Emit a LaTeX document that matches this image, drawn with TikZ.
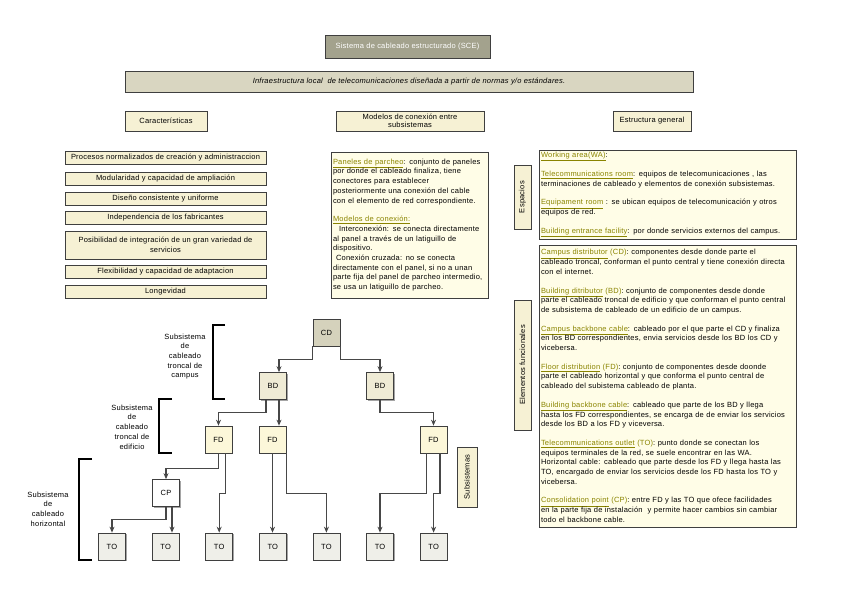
\documentclass[tikz,border=0pt]{standalone}
\usepackage{fontspec}
\setmainfont{Liberation Sans}[LetterSpace=3]
\usepackage{tikz}
\usetikzlibrary{shadows,arrows.meta,positioning}

\definecolor{titulo}{HTML}{A3A28D}
\definecolor{subtitulo}{HTML}{D9D6C1}
\definecolor{crema}{HTML}{F6F1D4}
\definecolor{cremaclaro}{HTML}{FFFDE7}
\definecolor{nodoCD}{HTML}{D5D2BC}
\definecolor{nodoBD}{HTML}{EFEBD5}
\definecolor{nodoFD}{HTML}{FCF7D9}
\definecolor{nodoTO}{HTML}{EFEFE9}
\definecolor{enlace}{HTML}{8A8400}
\definecolor{borde}{HTML}{3F3F3F}
\definecolor{gris}{HTML}{474747}

\newcommand{\tam}{\fontsize{7.5}{9.7}\selectfont}
\newcommand{\lnk}[1]{\textcolor{enlace}{\underline{#1}}}
\newcommand{\sgl}[1]{\textcolor{enlace}{#1}}

\begin{document}
\begin{tikzpicture}[x=1pt, y=-1pt,
			>={Stealth[length=6pt,width=5pt]},
			every node/.style={font=\tam},
			caja/.style={draw=borde, line width=0.7pt, fill=crema, align=center, inner sep=1pt,
				drop shadow={shadow xshift=1.2pt, shadow yshift=-1.2pt, opacity=0.7}},
			lista/.style={caja, minimum width=201pt, minimum height=13pt},
			texto/.style={caja, fill=cremaclaro, align=left, inner sep=2pt},
			nodo/.style={caja, minimum size=27pt, inner sep=0pt},
			flecha/.style={draw=gris, line width=1.2pt, ->},
			corchete/.style={line width=1.3pt},
			etiqueta/.style={align=center}
			]
			\useasboundingbox (0,0) rectangle (848,603);
			\fill[white] (0,0) rectangle (848,603);
			
			% Encabezado
			\node[caja, fill=titulo, text=white, minimum width=165pt, minimum height=23pt] (SCE) at (407.5,46.5) {Sistema de cableado estructurado (SCE)};
			\node[caja, fill=subtitulo, minimum width=568pt, minimum height=21pt, font=\tam\itshape] (Def) at (409,81.5) {Infraestructura local \ de telecomunicaciones diseñada a partir de normas y/o estándares.};
			
			% Titulos de columna
			\node[caja, minimum width=82pt, minimum height=20pt] (Carac) at (166,121) {Características};
			\node[caja, minimum width=148pt, minimum height=20pt, font=\fontsize{7.5}{8}\selectfont] (Modelos) at (410,121) {Modelos de conexión entre\\subsistemas};
			\node[caja, minimum width=78pt, minimum height=20pt] (Estruc) at (652,121) {Estructura general};
			
			% Lista de caracteristicas
			\node[lista] (Proc) at (165.5,157.5) {Procesos normalizados de creación y administraccion};
			\node[lista] (Modu) [below of=Proc, node distance=21pt] {Modularidad y capacidad de ampliación};
			\node[lista] (Dise) [below of=Modu, node distance=20pt] {Diseño consistente y uniforme};
			\node[lista] (Inde) [below of=Dise, node distance=19pt] {Independencia de los fabricantes};
			\node[lista, minimum height=28pt] (Posi) [below of=Inde, node distance=27.5pt] {Posibilidad de integración de un gran variedad de\\servicios};
			\node[lista] (Flex) [below of=Posi, node distance=26.5pt] {Flexibilidad y capacidad de adaptacion};
			\node[lista] (Long) [below of=Flex, node distance=20pt] {Longevidad};
			
			% Modelos de conexion
			\node[texto, text width=153pt, minimum height=146pt] (Paneles) at (409.5,225) {\lnk{Paneles de parcheo}: conjunto de paneles\\
				por donde el cableado finaliza, tiene\\
				conectores para establecer\\
				posteriormente una conexión del cable\\
				con el elemento de red correspondiente.\\[9pt]
				\lnk{Modelos de conexión:}\\
				\hspace*{6pt}Interconexión: se conecta directamente\\
				al panel a través de un latiguillo de\\
				dispositivo.\\
				\hspace*{3pt}Conexión cruzada: no se conecta\\
				directamente con el panel, si no a unan\\
				parte fija del panel de parcheo intermedio,\\
				se usa un latiguillo de parcheo.};
			
			% Estructura general
			\node[caja, rotate=90, minimum width=64pt, minimum height=17pt] (Espacios) at (522.5,197) {Espacios};
			\node[texto, text width=253pt, minimum height=89pt] (TxtEsp) at (667.5,194.5) {\lnk{Working area(WA)}:\\[9pt]
				\lnk{Telecommunications room}: equipos de telecomunicaciones , las\\
				terminaciones de cableado y elementos de conexión subsistemas.\\[9pt]
				\lnk{Equipament room} : se ubican equipos de telecomunicación y otros\\
				equipos de red.\\[9pt]
				\lnk{Building entrance facility}: por donde servicios externos del campus.};
			\node[caja, rotate=90, minimum width=130pt, minimum height=17pt] (Elementos) at (522.5,365) {Elementos funcionales};
			\node[texto, text width=253pt, minimum height=282pt] (TxtElem) at (667.5,386) {\lnk{Campus distributor} \sgl{(CD)}: componentes desde donde parte el\\
				cableado troncal, conforman el punto central y tiene conexión directa\\
				con el internet.\\[9pt]
				\lnk{Building ditributor} \sgl{(BD)}: conjunto de componentes desde donde\\
				parte el cableado troncal de edificio y que conforman el punto central\\
				de subsistema de cableado de un edificio de un campus.\\[9pt]
				\lnk{Campus backbone cable}: cableado por el que parte el CD y finaliza\\
				en los BD correspondientes, envia servicios desde los BD los CD y\\
				vicebersa.\\[9pt]
				\lnk{Floor distribution} \sgl{(FD)}: conjunto de componentes desde doonde\\
				parte el cableado horizontal y que conforma el punto central de\\
				cableado del subistema cableado de planta.\\[9pt]
				\lnk{Building backbone cable}: cableado que parte de los BD y llega\\
				hasta los FD correspondientes, se encarga de de enviar los servicios\\
				desde los BD a los FD y viceversa.\\[9pt]
				\lnk{Telecommunications outlet} \sgl{(TO)}: punto donde se conectan los\\
				equipos terminales de la red, se suele encontrar en las WA.\\
				Horizontal cable: cableado que parte desde los FD y llega hasta las\\
				TO, encargado de enviar los servicios desde los FD hasta los TO y\\
				vicebersa.\\[9pt]
				\lnk{Consolidation point} \sgl{(CP)}: entre FD y las TO que ofece facilidades\\
				en la parte fija de instalación \ y permite hacer cambios sin cambiar\\
				todo el backbone cable.};
			
			% Arbol de subsistemas
			\node[nodo, fill=nodoCD] (CD) at (326.5,332.5) {CD};
			\node[nodo, fill=nodoBD] (BD1) at (273,386) {BD};
			\node[nodo, fill=nodoBD] (BD2) at (380,386) {BD};
			\node[nodo, fill=nodoFD] (FD1) at (218.5,439.5) {FD};
			\node[nodo, fill=nodoFD] (FD2) at (272.5,439.5) {FD};
			\node[nodo, fill=nodoFD] (FD3) at (433.5,439.5) {FD};
			\node[nodo, fill=white] (CP) at (166,493) {CP};
			\node[nodo, fill=nodoTO] (TO1) at (112,546.5) {TO};
			\node[nodo, fill=nodoTO] (TO2) [right of=TO1, node distance=53.6pt] {TO};
			\node[nodo, fill=nodoTO] (TO3) [right of=TO2, node distance=53.6pt] {TO};
			\node[nodo, fill=nodoTO] (TO4) [right of=TO3, node distance=53.6pt] {TO};
			\node[nodo, fill=nodoTO] (TO5) [right of=TO4, node distance=53.6pt] {TO};
			\node[nodo, fill=nodoTO] (TO6) [right of=TO5, node distance=53.6pt] {TO};
			\node[nodo, fill=nodoTO] (TO7) [right of=TO6, node distance=53.6pt] {TO};
			\node[caja, rotate=90, minimum width=60pt, minimum height=20pt] (Subs) at (467,477) {Subsistemas};
			
			% Conexiones troncales
			\draw[flecha] (CD.south west) -- ++(0,13) -| ([xshift=6pt]BD1.north);
			\draw[flecha] (CD.south east) -- ++(0,13) -| (BD2.north);
			\draw[flecha] ([xshift=-7pt]BD1.south) -- ++(0,13) -| (FD1.north);
			\draw[flecha] ([xshift=6pt]BD1.south) -- ([xshift=6pt]BD1.south |- FD2.north);
			\draw[flecha] (BD2.south) -- ++(0,13) -| (FD3.north);
			
			% Conexiones horizontales
			\draw[flecha] (FD1.south) -- ++(0,15) -| (CP.north);
			\draw[flecha] ([xshift=7pt]FD1.south) -- ++(0,40) -| (TO3.north);
			\draw[flecha] (CP.south) -- ++(0,13) -| (TO1.north);
			\draw[flecha] ([xshift=6pt]CP.south) -- ([xshift=6pt]CP.south |- TO2.north);
			\draw[flecha] (FD2.south) -- (FD2.south |- TO4.north);
			\draw[flecha] (FD2.south east) -- ++(0,40) -| (TO5.north);
			\draw[flecha] ([xshift=-7pt]FD3.south) -- ++(0,40) -| (TO6.north);
			\draw[flecha] ([xshift=6.5pt]FD3.south) -- ++(0,40) -| (TO7.north);
			
			% Corchetes y etiquetas
			\draw[corchete] (225,325) -- (213,325) -- (213,399) -- (225,399);
			\draw[corchete] (172,399) -- (159,399) -- (159,453) -- (172,453);
			\draw[corchete] (92,459) -- (79,459) -- (79,560) -- (92,560);
			\node[etiqueta] (LblCampus) at (185,356.5) {Subsistema\\de\\cableado\\troncal de\\campus};
			\node[etiqueta] (LblEdificio) at (132,427) {Subsistema\\de\\cableado\\troncal de\\edificio};
			\node[etiqueta] (LblHoriz) at (48,509) {Subsistema\\de\\cableado\\horizontal};
			
		\end{tikzpicture}
\end{document}
